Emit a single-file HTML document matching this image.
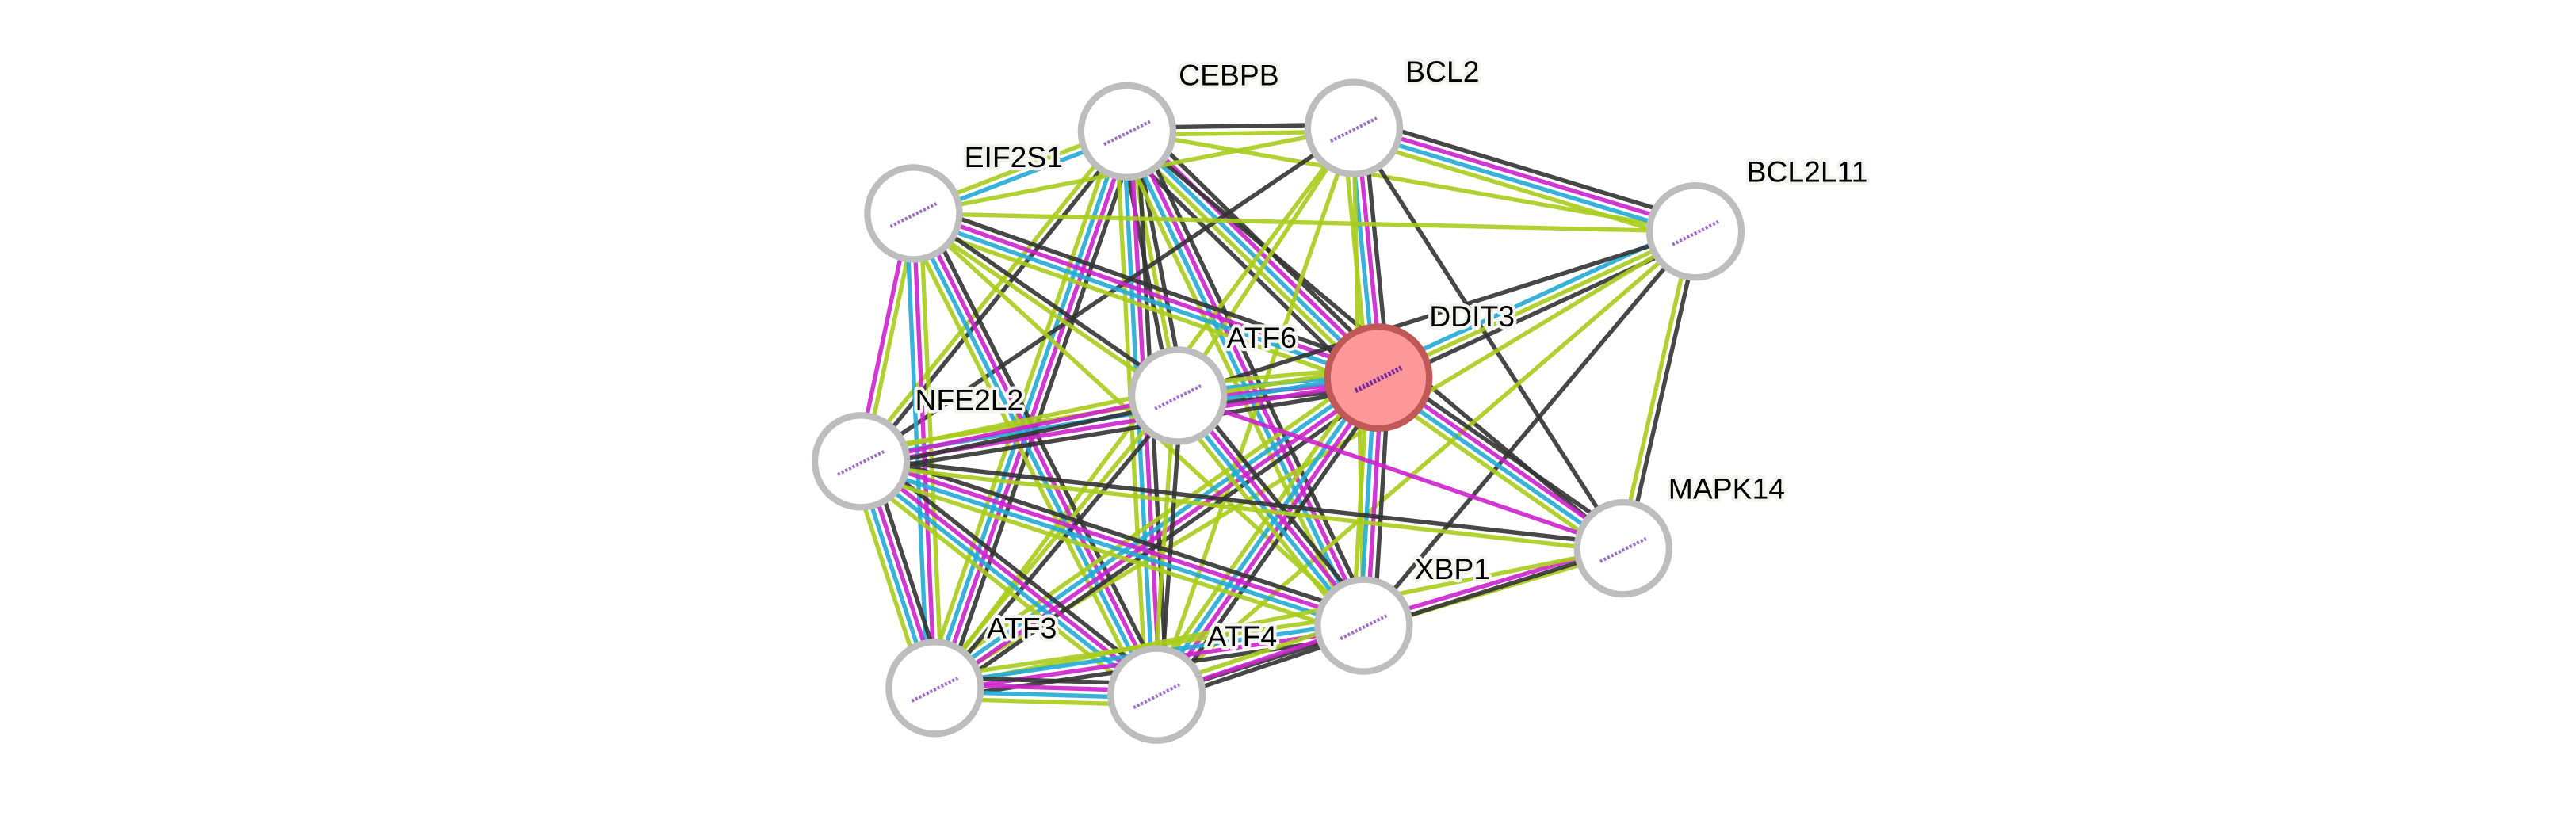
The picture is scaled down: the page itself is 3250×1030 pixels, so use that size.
<!DOCTYPE html>
<html><head><meta charset="utf-8"><style>
html,body{margin:0;padding:0;background:#fff;}
svg{display:block;}
text{font-family:"Liberation Sans",sans-serif;font-size:18px;fill:#000;paint-order:stroke;stroke:#f4f4ef;stroke-width:4px;stroke-linejoin:round;}
</style></head><body>
<svg id="s" width="3250" height="1030" viewBox="0 0 1568 497" preserveAspectRatio="none" xmlns="http://www.w3.org/2000/svg">
<g id="edges" stroke-width="2.6" stroke-opacity="0.9"></g>
<g id="nodes"></g>
<g id="labels"></g>
</svg>
<script>
var N={
CEBPB:[686,80,748,47],BCL2:[824,78,878,45],EIF2S1:[556,130,617,97],BCL2L11:[1032,141,1100,106],
DDIT3:[839,230,896,194],ATF6:[717,241,768,207],NFE2L2:[524,281,590,245],MAPK14:[988,334,1051,299],
XBP1:[830,381,884,348],ATF3:[569,419,622,384],ATF4:[704,423,756,389]};
var C={k:"#333",y:"#a8cc1c",m:"#cc22cc",c:"#22aad4"};
var E=[
["CEBPB","BCL2","ky"],["CEBPB","EIF2S1","cy"],["CEBPB","DDIT3","kmcyk"],["CEBPB","ATF6","kyk"],["CEBPB","NFE2L2","ky"],
["CEBPB","ATF3","kmcy"],["CEBPB","ATF4","kmcy"],["CEBPB","XBP1","kmcy"],["CEBPB","MAPK14","k"],["CEBPB","BCL2L11","y"],
["BCL2","EIF2S1","y"],["BCL2","DDIT3","kmcy"],["BCL2","ATF6","y"],["BCL2","NFE2L2","k"],["BCL2","ATF3","y"],["BCL2","ATF4","y"],
["BCL2","XBP1","y"],["BCL2","BCL2L11","kmcy"],["BCL2","MAPK14","k"],
["EIF2S1","DDIT3","kmcy"],["EIF2S1","ATF6","ky"],["EIF2S1","NFE2L2","ym"],["EIF2S1","ATF3","ymc"],["EIF2S1","ATF4","kmcy"],
["EIF2S1","XBP1","y"],["EIF2S1","BCL2L11","y"],
["BCL2L11","DDIT3","kyc"],["BCL2L11","ATF6","k"],["BCL2L11","MAPK14","ky"],["BCL2L11","XBP1","k"],["BCL2L11","ATF4","y"],["BCL2L11","ATF3","y"],
["DDIT3","ATF6","kmcy"],["DDIT3","NFE2L2","kmcy"],["DDIT3","MAPK14","kmcy"],["DDIT3","XBP1","kmcy"],["DDIT3","ATF3","kmcy"],["DDIT3","ATF4","kmcy"],
["ATF6","NFE2L2","kmy"],["ATF6","XBP1","kmcy"],["ATF6","ATF3","ky"],["ATF6","ATF4","ky"],["ATF6","MAPK14","m"],
["NFE2L2","ATF3","kmcy"],["NFE2L2","ATF4","kmcy"],["NFE2L2","XBP1","kmcy"],["NFE2L2","MAPK14","ky"],
["MAPK14","XBP1","ym"],["MAPK14","ATF3","y"],["MAPK14","ATF4","k"],
["XBP1","ATF3","kmcy"],["XBP1","ATF4","kmy"],["ATF3","ATF4","kmcy"]];
var ns="http://www.w3.org/2000/svg",eg=document.getElementById("edges"),ng=document.getElementById("nodes"),lg=document.getElementById("labels");
E.forEach(function(e){var a=N[e[0]],b=N[e[1]],dx=b[0]-a[0],dy=b[1]-a[1],L=Math.hypot(dx,dy),px=-dy/L,py=dx/L,n=e[2].length,sp=4.3;
for(var i=0;i<n;i++){var o=(i-(n-1)/2)*sp,l=document.createElementNS(ns,"line");
l.setAttribute("x1",a[0]+px*o);l.setAttribute("y1",a[1]+py*o);l.setAttribute("x2",b[0]+px*o);l.setAttribute("y2",b[1]+py*o);
l.setAttribute("stroke",C[e[2][i]]);eg.appendChild(l);}});
for(var k in N){var p=N[k],c=document.createElementNS(ns,"circle"),d=k=="DDIT3";
c.setAttribute("cx",p[0]);c.setAttribute("cy",p[1]);c.setAttribute("r",d?31:28);
c.setAttribute("fill",d?"#fd9898":"#fff");c.setAttribute("stroke",d?"#c05858":"#bdbdbd");c.setAttribute("stroke-width",4);ng.appendChild(c);
var s=document.createElementNS(ns,"path");s.setAttribute("d","M"+(p[0]-14)+" "+(p[1]+8)+" L"+(p[0]+14)+" "+(p[1]-6));
s.setAttribute("stroke",d?"#7a2a9a":"#a070c8");s.setAttribute("stroke-width",d?3:2);s.setAttribute("stroke-dasharray","1.5 1");ng.appendChild(s);
var t=document.createElementNS(ns,"text");t.setAttribute("x",p[2]);t.setAttribute("y",p[3]);t.setAttribute("text-anchor","middle");t.setAttribute("dominant-baseline","middle");t.textContent=k;lg.appendChild(t);}
</script>
</body></html>
